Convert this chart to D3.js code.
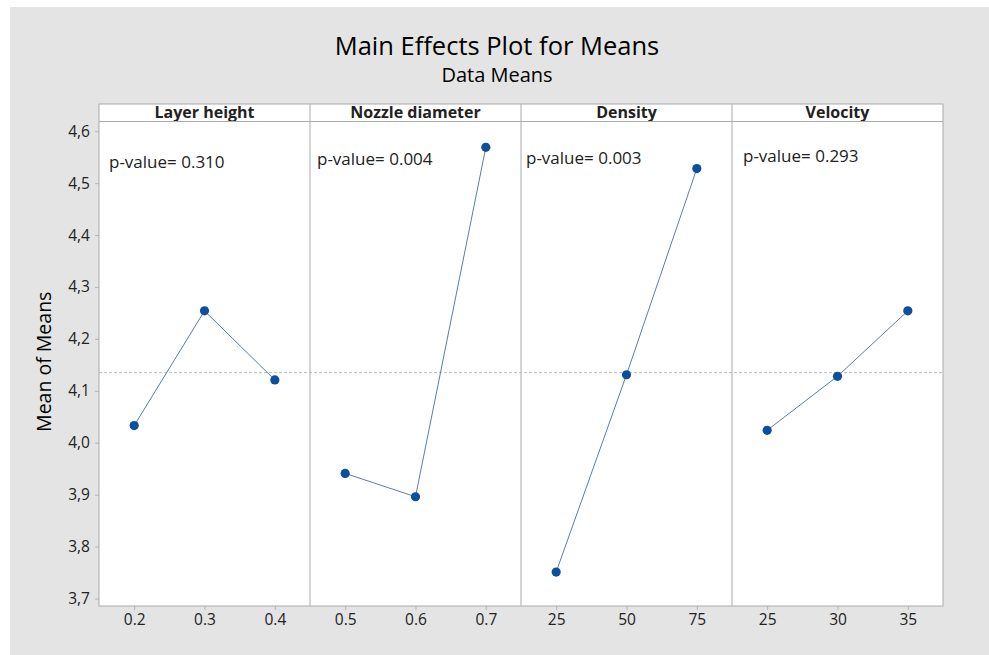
<!DOCTYPE html>
<html>
<head>
<meta charset="utf-8">
<script src="https://cdn.jsdelivr.net/npm/d3@7"></script>
<style>
  body { margin: 0; background: #fff; }
  text { font-family: "Open Sans", "Noto Sans", sans-serif; }
</style>
</head>
<body>
<script>
const w = 989;
const h = 655;

// data
const factors = ["Layer height", "Nozzle diameter", "Density", "Velocity"];
const levels = [[0.2, 0.3, 0.4], [0.5, 0.6, 0.7], [25, 50, 75], [25, 30, 35]];
const means = [[4.033, 4.254, 4.121], [3.941, 3.896, 4.569], [3.751, 4.131, 4.528], [4.024, 4.128, 4.254]];
const pValues = ["0.310", "0.004", "0.003", "0.293"];
const grandMean = 4.135;
const yTicks = [3.7, 3.8, 3.9, 4.0, 4.1, 4.2, 4.3, 4.4, 4.5, 4.6];

// layout
const plotLeft = 99, plotRight = 943;
const headTop = 104, plotTop = 121.5, plotBottom = 606;
const panelW = (plotRight - plotLeft) / factors.length;
const pOffsets = [[10, 168], [7, 165], [5, 164], [11, 162]];

const svg = d3.select("body").append("svg")
  .attr("width", w)
  .attr("height", h);

svg.append("rect")
  .attr("x", 10).attr("y", 7)
  .attr("width", w - 10).attr("height", h - 7)
  .attr("fill", "#e4e4e4");

svg.append("text")
  .attr("x", 497).attr("y", 55)
  .attr("text-anchor", "middle")
  .attr("font-size", 25.5)
  .attr("fill", "#000")
  .text("Main Effects Plot for Means");

svg.append("text")
  .attr("x", 497).attr("y", 82)
  .attr("text-anchor", "middle")
  .attr("font-size", 20)
  .attr("fill", "#000")
  .text("Data Means");

svg.append("text")
  .attr("transform", "translate(51," + ((plotTop + plotBottom) / 2 - 2) + ") rotate(-90)")
  .attr("text-anchor", "middle")
  .attr("font-size", 19.5)
  .attr("fill", "#000")
  .text("Mean of Means");

const yScale = d3.scaleLinear()
  .domain([3.6856, 4.6187])
  .range([plotBottom, plotTop]);

// white plot area
svg.append("rect")
  .attr("x", plotLeft).attr("y", headTop)
  .attr("width", plotRight - plotLeft).attr("height", plotBottom - headTop)
  .attr("fill", "#fff");

const yAxis = d3.axisLeft(yScale)
  .tickValues(yTicks)
  .tickSize(4)
  .tickFormat(d => d3.format(".1f")(d).replace(".", ","));

const gy = svg.append("g")
  .attr("transform", "translate(" + plotLeft + ",0)")
  .call(yAxis);
gy.select(".domain").remove();
gy.selectAll("line").attr("stroke", "#b5b5b5");
gy.selectAll("text").attr("font-size", 15.5).attr("fill", "#222").attr("x", -9);

// grand mean reference line
svg.append("line")
  .attr("x1", plotLeft).attr("x2", plotRight)
  .attr("y1", yScale(grandMean)).attr("y2", yScale(grandMean))
  .attr("stroke", "#bbb")
  .attr("stroke-dasharray", "3,2");

factors.forEach((name, i) => {
  const x0 = plotLeft + i * panelW;
  const lv = levels[i];
  const step = lv[1] - lv[0];
  const xScale = d3.scaleLinear()
    .domain([lv[0] - step / 2, lv[lv.length - 1] + step / 2])
    .range([x0, x0 + panelW]);

  const xAxis = d3.axisBottom(xScale)
    .tickValues(lv)
    .tickSize(4)
    .tickFormat(step < 1 ? d3.format(".1f") : d3.format("d"));

  const gx = svg.append("g")
    .attr("transform", "translate(0," + plotBottom + ")")
    .call(xAxis);
  gx.select(".domain").remove();
  gx.selectAll("line").attr("stroke", "#b5b5b5");
  gx.selectAll("text").attr("font-size", 15.5).attr("fill", "#222").attr("y", 8);

  // header strip
  svg.append("text")
    .attr("x", x0 + panelW / 2).attr("y", 118)
    .attr("text-anchor", "middle")
    .attr("font-size", 16)
    .attr("font-weight", "bold")
    .attr("fill", "#222")
    .text(name);

  svg.append("text")
    .attr("x", x0 + pOffsets[i][0]).attr("y", pOffsets[i][1])
    .attr("font-size", 17)
    .attr("fill", "#222")
    .text("p-value= " + pValues[i]);

  const pts = lv.map((v, j) => [xScale(v), yScale(means[i][j])]);

  svg.append("path")
    .attr("d", d3.line()(pts))
    .attr("fill", "none")
    .attr("stroke", "#5b7da8")
    .attr("stroke-width", 1);

  svg.selectAll(null)
    .data(pts)
    .enter()
    .append("circle")
    .attr("cx", d => d[0])
    .attr("cy", d => d[1])
    .attr("r", 4.6)
    .attr("fill", "#0b4f9e");

  if (i > 0) {
    svg.append("line")
      .attr("x1", x0).attr("x2", x0)
      .attr("y1", headTop).attr("y2", plotBottom)
      .attr("stroke", "#aaa");
  }
});

// frame and header separator
svg.append("rect")
  .attr("x", plotLeft).attr("y", headTop)
  .attr("width", plotRight - plotLeft).attr("height", plotBottom - headTop)
  .attr("fill", "none")
  .attr("stroke", "#aaa");

svg.append("line")
  .attr("x1", plotLeft).attr("x2", plotRight)
  .attr("y1", plotTop).attr("y2", plotTop)
  .attr("stroke", "#aaa");
</script>
</body>
</html>
